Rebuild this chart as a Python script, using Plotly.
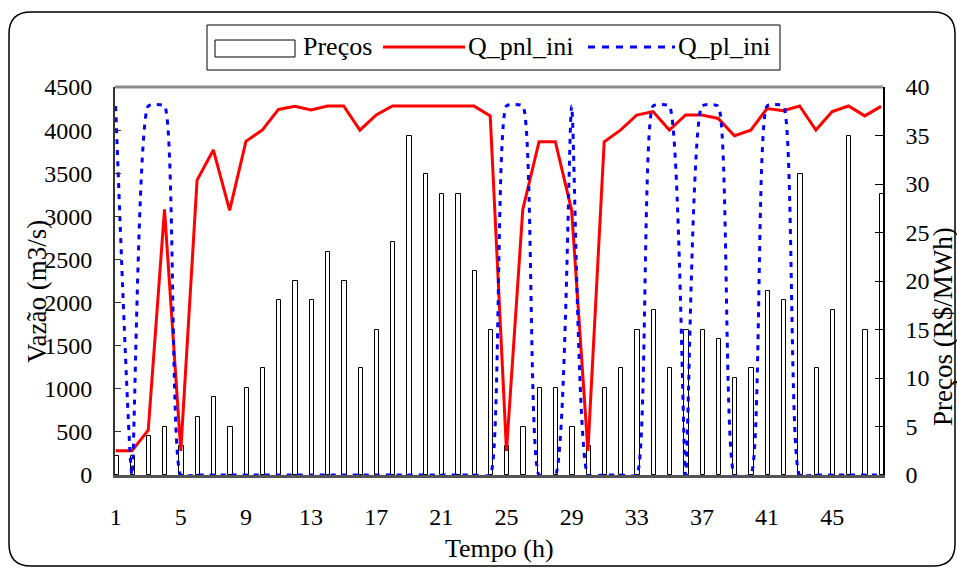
import plotly.graph_objects as go

# Hourly series (48 h)
horas = list(range(1, 49))

precos = [2, 2, 4, 5, 3, 6, 8, 5, 9, 11, 18, 20, 18, 23, 20, 11, 15, 24,
          35, 31, 29, 29, 21, 15, 3, 5, 9, 9, 5, 3, 9, 11, 15, 17, 11, 15,
          15, 14, 10, 11, 19, 18, 31, 11, 17, 35, 15, 29]

q_pnl_ini = [280, 280, 520, 3080, 280, 3420, 3770, 3070, 3870, 4000, 4240,
             4275, 4235, 4280, 4280, 4000, 4175, 4280, 4280, 4280, 4280,
             4280, 4280, 4165, 280, 3080, 3865, 3865, 3070, 280, 3865, 4000,
             4175, 4215, 4000, 4175, 4175, 4135, 3935, 4000, 4250, 4225,
             4280, 4000, 4215, 4280, 4165, 4275]

q_pl_ini = [4280, 0, 4280, 4280, 0, 0, 0, 0, 0, 0, 0, 0, 0, 0, 0, 0, 0, 0,
            0, 0, 0, 0, 0, 0, 4280, 4280, 0, 0, 4280, 0, 0, 0, 0, 4280, 4280,
            0, 4280, 4280, 0, 0, 4280, 4280, 0, 0, 0, 0, 0, 0]

x_ticks = [1, 5, 9, 13, 17, 21, 25, 29, 33, 37, 41, 45]

W, H = 957, 569
L, R, T, B = 115, 883, 87, 475
FONT = "Liberation Serif"


def px(x):
    return (x - L) / (R - L)


def py(y):
    return (B - y) / (B - T)


fig = go.Figure()

fig.add_trace(go.Bar(
    x=horas, y=precos, name="Preços", yaxis="y",
    width=0.26, offset=-0.08,
    marker=dict(color="white", line=dict(color="black", width=1)),
    showlegend=False,
))

fig.add_trace(go.Scatter(
    x=horas, y=q_pnl_ini, name="Q_pnl_ini", yaxis="y2", mode="lines",
    line=dict(color="#ff0000", width=3), showlegend=False,
))

fig.add_trace(go.Scatter(
    x=horas, y=q_pl_ini, name="Q_pl_ini", yaxis="y2", mode="lines",
    line=dict(color="#0000ff", width=3, dash="5px,6px", shape="spline", smoothing=0.45),
    showlegend=False,
))

shapes = []

# outer rounded frame
x0, y0, x1, y1, r = 9, 12, 955, 566, 22
pts = [
    ("M", (x0 + r, y0)), ("L", (x1 - r, y0)), ("Q", (x1, y0), (x1, y0 + r)),
    ("L", (x1, y1 - r)), ("Q", (x1, y1), (x1 - r, y1)), ("L", (x0 + r, y1)),
    ("Q", (x0, y1), (x0, y1 - r)), ("L", (x0, y0 + r)), ("Q", (x0, y0), (x0 + r, y0)),
]
path = ""
for item in pts:
    cmd = item[0]
    coords = " ".join(f"{px(a):.5f},{py(b):.5f}" for a, b in item[1:])
    path += f"{cmd}{coords} "
path += "Z"
shapes.append(dict(type="path", xref="paper", yref="paper", path=path,
                   line=dict(color="black", width=1.5), layer="below"))

# top edge of the plot frame
shapes.append(dict(type="line", xref="paper", yref="paper",
                   x0=0, x1=1, y0=1, y1=1, line=dict(color="#8c8c8c", width=3)))

# legend box and symbols
shapes.append(dict(type="rect", xref="paper", yref="paper",
                   x0=px(207), x1=px(780), y0=py(70), y1=py(25),
                   line=dict(color="black", width=1), fillcolor="white"))
shapes.append(dict(type="rect", xref="paper", yref="paper",
                   x0=px(215), x1=px(295), y0=py(57), y1=py(40),
                   line=dict(color="black", width=1), fillcolor="white"))
shapes.append(dict(type="line", xref="paper", yref="paper",
                   x0=px(383), x1=px(465), y0=py(47), y1=py(47),
                   line=dict(color="#ff0000", width=3)))
shapes.append(dict(type="line", xref="paper", yref="paper",
                   x0=px(588), x1=px(675), y0=py(47), y1=py(47),
                   line=dict(color="#0000ff", width=3, dash="7px,7px")))

annotations = []
for txt, xl in [("Preços", 301), ("Q_pnl_ini", 466), ("Q_pl_ini", 676)]:
    annotations.append(dict(text=txt, xref="paper", yref="paper", x=px(xl), y=py(47),
                            xanchor="left", yanchor="middle", showarrow=False,
                            font=dict(family=FONT, size=26, color="black")))

annotations.append(dict(text="Vazão (m3/s)", xref="paper", yref="paper",
                        x=px(37), y=py(292), xanchor="center", yanchor="middle",
                        textangle=-90, showarrow=False,
                        font=dict(family=FONT, size=27, color="black")))
annotations.append(dict(text="Preços (R$/MWh)", xref="paper", yref="paper",
                        x=px(943), y=py(327), xanchor="center", yanchor="middle",
                        textangle=-90, showarrow=False,
                        font=dict(family=FONT, size=27, color="black")))
annotations.append(dict(text="Tempo (h)", xref="paper", yref="paper",
                        x=px(499), y=py(548), xanchor="center", yanchor="middle",
                        showarrow=False,
                        font=dict(family=FONT, size=26, color="black")))

tick_font = dict(family=FONT, size=24, color="black")

fig.update_layout(
    width=W, height=H,
    margin=dict(l=L, r=W - R, t=T, b=H - B, pad=0),
    paper_bgcolor="white", plot_bgcolor="white",
    font=dict(family=FONT, size=24, color="black"),
    bargap=0,
    xaxis=dict(range=[0.96, 48.12], tickmode="array", tickvals=x_ticks,
               showgrid=False, zeroline=False, ticks="",
               showline=True, linecolor="#555555", linewidth=2.5,
               ticklabelstandoff=18, tickfont=tick_font),
    yaxis=dict(range=[0, 40], dtick=5, side="right", showgrid=False, zeroline=False,
               showline=True, linecolor="black", linewidth=1.5,
               ticks="inside", ticklen=8, tickcolor="black", tickwidth=1,
               ticklabelstandoff=16, tickfont=tick_font),
    yaxis2=dict(range=[0, 4500], dtick=500, side="left", overlaying="y",
                showgrid=False, zeroline=False,
                showline=True, linecolor="#333333", linewidth=2,
                ticks="inside", ticklen=6, tickcolor="#333333", tickwidth=1,
                ticklabelstandoff=16, tickfont=tick_font),
    shapes=shapes,
    annotations=annotations,
)

fig.write_html("out.html")
